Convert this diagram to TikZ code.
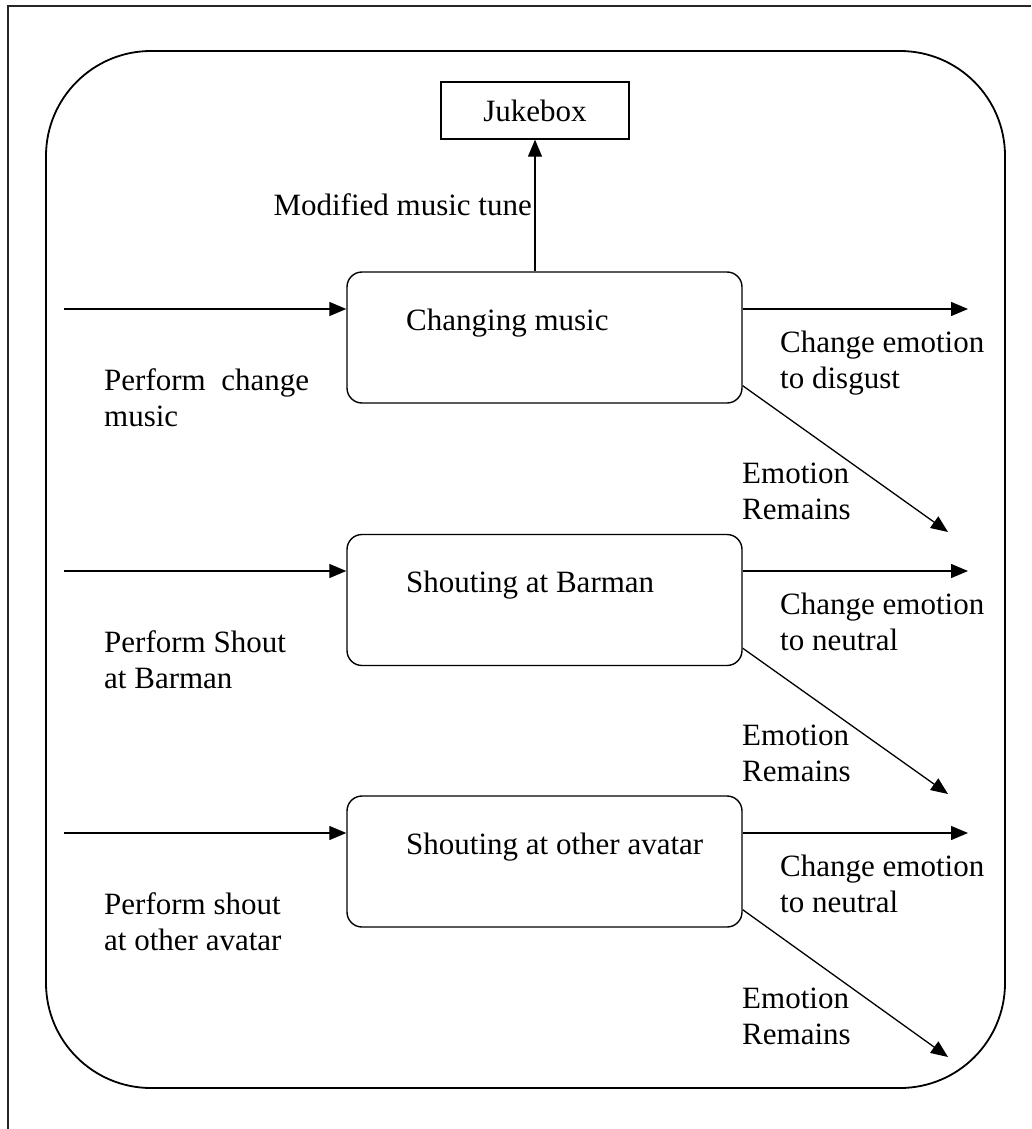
\documentclass[tikz,border=0pt]{standalone}
\usepackage{fontspec}
\setmainfont{Liberation Serif}
\usetikzlibrary{arrows.meta,calc}

\tikzset{
  txt/.style={font={\fontsize{31}{36}\selectfont}, inner sep=0pt, align=left},
  proc/.style={draw, line width=1.4pt, rounded corners=15pt,
               minimum width=395pt, minimum height=131pt, inner sep=0pt},
  jbox/.style={draw, line width=1.3pt, minimum width=188pt, minimum height=57pt,
               inner sep=0pt, font={\fontsize{31}{36}\selectfont}},
  arr/.style={line width=1.3pt, -{Triangle[length=17pt,width=14pt]}},
}

\begin{document}
\begin{tikzpicture}[x=1pt,y=-1pt]
  \useasboundingbox (0,0) rectangle (1031,1129);

  % open page frame (left and top edges)
  \draw[line width=1.2pt, black!85] (8,1129) -- (8,6) -- (1031,6);

  % enclosing rounded region
  \draw[line width=1.8pt, rounded corners=105pt] (46,51) rectangle (1005,1088);

  % jukebox
  \node[jbox] (jb) at (535,110.5) {Jukebox};

  % process boxes
  \node[proc] (b1) at (544.5,337.5) {};
  \node[proc] (b2) at (544.5,600) {};
  \node[proc] (b3) at (544.5,861.5) {};

  \node[txt, anchor=base west] (t1) at (406,330) {Changing music};
  \node[txt, anchor=base west] (t2) at (406,592) {Shouting at Barman};
  \node[txt, anchor=base west] (t3) at (406,854) {Shouting at other avatar};

  % music tune to the jukebox
  \draw[arr] (jb.south |- b1.north) -- (jb.south);
  \node[txt, anchor=base east] (mt) at (532,215) {Modified music tune};

  % inputs
  \coordinate (i1) at (64,309);
  \coordinate (i2) at (64,571);
  \coordinate (i3) at (64,833);
  \draw[arr] (i1) -- (i1 -| b1.west);
  \draw[arr] (i2) -- (i2 -| b2.west);
  \draw[arr] (i3) -- (i3 -| b3.west);

  % outputs: emotion change
  \coordinate (o1) at (968,309);
  \coordinate (o2) at (968,571);
  \coordinate (o3) at (968,833);
  \draw[arr] (o1 -| b1.east) -- (o1);
  \draw[arr] (o2 -| b2.east) -- (o2);
  \draw[arr] (o3 -| b3.east) -- (o3);

  % outputs: emotion remains
  \coordinate (r1) at (948,532);
  \coordinate (r2) at (948,794);
  \coordinate (r3) at (948,1057);
  \draw[arr] ($(b1.south east)+(0,-18)$) -- (r1);
  \draw[arr] ($(b2.south east)+(0,-18)$) -- (r2);
  \draw[arr] ($(b3.south east)+(0,-18)$) -- (r3);

  % two-line labels: the base anchor sits on the last line
  % input labels
  \node[txt, anchor=base west] (p1) at (104,426) {Perform\ \ change\\music};
  \node[txt, anchor=base west] (p2) at (104,688) {Perform Shout\\at Barman};
  \node[txt, anchor=base west] (p3) at (104,950) {Perform shout\\at other avatar};

  % change labels
  \node[txt, anchor=base west] (c1) at (780,388) {Change emotion\\to disgust};
  \node[txt, anchor=base west] (c2) at (780,650) {Change emotion\\to neutral};
  \node[txt, anchor=base west] (c3) at (780,912) {Change emotion\\to neutral};

  % remain labels
  \node[txt, anchor=base west] (e1) at (742,519) {Emotion\\Remains};
  \node[txt, anchor=base west] (e2) at (742,781) {Emotion\\Remains};
  \node[txt, anchor=base west] (e3) at (742,1044) {Emotion\\Remains};
\end{tikzpicture}
\end{document}
